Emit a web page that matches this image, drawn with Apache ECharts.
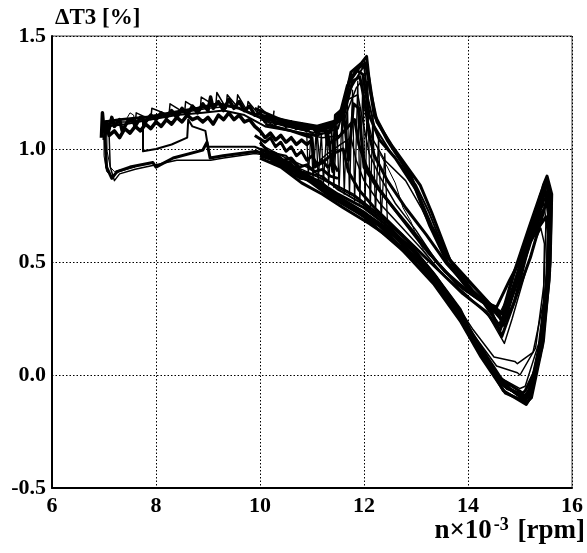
<!DOCTYPE html>
<html>
<head>
<meta charset="utf-8">
<script src="https://cdn.jsdelivr.net/npm/echarts@6/dist/echarts.min.js"></script>
<style>
html, body { margin: 0; padding: 0; background: #fff; }
#chart { width: 587px; height: 553px; }
</style>
</head>
<body>
<div id="chart"></div>
<script>
// axis ticks
var xTicks = [6, 8, 10, 12, 14, 16];
var yTicks = [-0.5, 0.0, 0.5, 1.0, 1.5];

// noisy upper band, n x 10^-3 vs dT3
var bandTop = [[6.95,1.05],[6.97,1.16],[7.0,1.08],[7.05,1.12],[7.1,1.09],[7.15,1.14],[7.2,1.10],[7.3,1.13],[7.35,1.08],[7.45,1.12],[7.55,1.13],[7.6,1.10],[7.7,1.14],[7.8,1.12],[7.9,1.15],[8.0,1.13],[8.1,1.16],[8.2,1.14],[8.3,1.17],[8.4,1.14],[8.5,1.18],[8.6,1.15],[8.7,1.19],[8.8,1.16],[8.9,1.20],[9.0,1.17],[9.05,1.23],[9.1,1.18],[9.2,1.21],[9.3,1.17],[9.4,1.22],[9.5,1.18],[9.6,1.21],[9.7,1.17],[9.8,1.19],[9.9,1.15],[10.0,1.16],[10.1,1.12],[10.2,1.14],[10.3,1.11],[10.4,1.13],[10.5,1.10],[10.6,1.12],[10.7,1.09],[10.8,1.11],[10.9,1.08],[11.0,1.10],[11.1,1.07],[11.2,1.09],[11.3,1.07],[11.4,1.10],[11.5,1.09]];
var bandLow = [[7.0,1.04],[7.05,1.10],[7.1,1.06],[7.2,1.08],[7.3,1.05],[7.4,1.09],[7.5,1.07],[7.6,1.10],[7.7,1.08],[7.8,1.11],[7.9,1.09],[8.0,1.12],[8.1,1.10],[8.2,1.13],[8.3,1.11],[8.4,1.14],[8.5,1.12],[8.6,1.15],[8.7,1.13],[8.8,1.14],[8.9,1.12],[9.0,1.14],[9.1,1.11],[9.2,1.15],[9.3,1.13],[9.4,1.16],[9.5,1.13],[9.6,1.15],[9.7,1.12],[9.8,1.13],[9.9,1.10],[10.0,1.08],[10.1,1.05],[10.2,1.07],[10.3,1.04],[10.4,1.06],[10.5,1.03],[10.6,1.05],[10.7,1.02],[10.8,1.04],[10.9,1.02],[11.0,1.04]];
var bandMid = [[9.9,1.06],[10.1,1.03],[10.2,1.05],[10.3,1.01],[10.4,1.03],[10.5,0.99],[10.6,1.01],[10.7,0.97],[10.8,0.99],[10.9,0.95],[11.0,0.97],[11.1,0.93],[11.2,0.95],[11.3,0.92],[11.4,0.94],[11.5,0.90]];
var bandMid2 = [[10.0,1.03],[10.15,0.99],[10.3,0.98],[10.45,0.95],[10.6,0.96],[10.75,0.92],[10.9,0.93],[11.05,0.90],[11.2,0.91],[11.35,0.88],[11.5,0.87]];
var bandSpikes = [[7.6,1.11],[7.62,1.16],[7.9,1.13],[7.92,1.18],[8.25,1.15],[8.27,1.20],[8.55,1.16],[8.57,1.21],[8.85,1.17],[8.87,1.23],[9.15,1.19],[9.17,1.25],[9.35,1.18],[9.37,1.24],[9.55,1.19],[9.57,1.24],[9.75,1.17],[9.77,1.21],[9.95,1.16],[9.97,1.19],[10.25,1.13],[10.27,1.17]];

// cycles
var cycle1 = [[7.0,1.12],[7.3,1.13],[7.8,1.14],[8.3,1.16],[8.8,1.18],[9.2,1.20],[9.6,1.18],[10.0,1.14],[10.5,1.11],[11.0,1.09],[11.4,1.11],[11.6,1.18],[11.75,1.34],[11.95,1.38],[12.05,1.41],[12.12,1.26],[12.25,1.12],[12.55,1.01],[13.08,0.84],[13.3,0.72],[13.65,0.51],[14.2,0.37],[14.6,0.27],[14.68,0.22],[14.95,0.42],[15.25,0.64],[15.45,0.84],[15.52,0.88],[15.61,0.80],[15.58,0.50],[15.44,0.17],[15.2,-0.10],[15.12,-0.13],[14.68,-0.07],[14.23,0.11],[13.85,0.29],[13.4,0.43],[12.88,0.57],[12.5,0.64],[11.92,0.73],[11.44,0.79],[11.15,0.86],[10.77,0.87],[10.58,0.94],[10.2,0.96],[9.94,0.99],[9.29,0.97],[9.04,0.96],[8.98,1.03],[8.9,0.995],[8.33,0.96],[8.0,0.92],[7.94,0.94],[7.5,0.92],[7.25,0.90],[7.15,0.87],[7.05,0.92],[7.02,1.05],[7.0,1.12]];
var cycle2 = [[7.05,1.10],[7.4,1.11],[7.9,1.13],[8.4,1.15],[8.9,1.16],[9.3,1.17],[9.7,1.15],[10.1,1.10],[10.6,1.08],[11.1,1.06],[11.5,1.09],[11.7,1.25],[11.9,1.33],[12.0,1.37],[12.08,1.22],[12.2,1.10],[12.5,0.99],[13.0,0.84],[13.25,0.72],[13.6,0.52],[14.15,0.38],[14.55,0.28],[14.64,0.24],[14.9,0.40],[15.2,0.60],[15.42,0.80],[15.5,0.85],[15.57,0.78],[15.55,0.48],[15.4,0.16],[15.18,-0.08],[15.08,-0.11],[14.65,-0.04],[14.2,0.13],[13.8,0.30],[13.35,0.45],[12.85,0.59],[12.45,0.67],[11.95,0.76],[11.5,0.82],[11.2,0.88],[10.8,0.90],[10.5,0.97],[10.1,0.99],[9.9,1.01],[9.3,1.01],[9.0,1.01],[8.95,1.08],[8.7,1.10],[8.62,1.13],[8.6,1.05],[8.3,1.02],[8.0,1.00],[7.75,0.99],[7.75,1.13]];
var cycle3 = [[7.1,1.12],[7.5,1.12],[8.0,1.14],[8.5,1.16],[9.0,1.18],[9.5,1.19],[9.9,1.15],[10.3,1.10],[10.8,1.07],[11.2,1.05],[11.55,1.06],[11.65,1.15],[11.85,1.27],[11.95,1.30],[12.02,1.18],[12.15,1.05],[12.4,0.95],[12.8,0.86],[13.1,0.74],[13.5,0.55],[14.05,0.40],[14.5,0.30],[14.6,0.27],[14.85,0.38],[15.15,0.58],[15.38,0.76],[15.48,0.81],[15.54,0.74],[15.52,0.45],[15.36,0.14],[15.1,-0.05],[15.0,-0.06],[14.6,-0.01],[14.15,0.15],[13.75,0.31],[13.3,0.46],[12.8,0.60],[12.4,0.69],[11.9,0.78],[11.4,0.84],[11.0,0.89],[10.6,0.93],[10.2,0.97],[9.9,0.98],[9.3,0.96],[9.05,0.95],[8.4,0.95],[8.0,0.93],[7.6,0.91],[7.3,0.89],[7.2,0.86],[7.12,0.92],[7.1,1.05],[7.12,1.12]];
var cycle4 = [[9.8,1.16],[10.2,1.12],[10.7,1.09],[11.1,1.07],[11.35,1.07],[11.45,1.12],[11.7,1.22],[11.88,1.24],[11.98,1.12],[12.1,0.98],[12.3,0.88],[12.6,0.76],[13.0,0.64],[13.4,0.50],[13.9,0.38],[14.4,0.30],[14.62,0.19],[14.88,0.36],[15.18,0.56],[15.4,0.73],[15.46,0.76],[15.5,0.68],[15.46,0.40],[15.3,0.12],[15.0,0.0],[14.95,0.01],[14.55,0.04],[14.1,0.18],[13.7,0.33],[13.25,0.47],[12.75,0.62],[12.3,0.71],[11.8,0.80],[11.3,0.86],[10.9,0.92],[10.5,0.96],[10.0,1.02]];
var cycle5 = [[9.9,1.18],[10.4,1.13],[10.9,1.10],[11.25,1.09],[11.3,1.02],[11.5,1.05],[11.7,1.10],[11.82,1.13],[11.9,1.02],[12.05,0.92],[12.3,0.82],[12.7,0.70],[13.1,0.58],[13.55,0.46],[14.0,0.37],[14.45,0.31],[14.55,0.30],[14.8,0.42],[15.1,0.55],[15.38,0.66],[15.5,0.70],[15.55,0.62],[15.5,0.35],[15.35,0.05],[15.1,-0.07],[15.05,-0.08],[14.65,-0.02],[14.2,0.14],[13.8,0.29],[13.35,0.44],[12.9,0.56],[12.45,0.66],[12.0,0.74],[11.5,0.80],[11.1,0.86],[10.7,0.91],[10.3,0.97],[10.0,1.0]];
var cycle6 = [[10.0,1.13],[10.5,1.10],[10.9,1.08],[11.1,1.06],[11.15,0.95],[11.3,0.98],[11.55,1.02],[11.75,1.05],[11.85,0.95],[12.0,0.86],[12.3,0.76],[12.7,0.66],[13.1,0.56],[13.5,0.45],[13.95,0.36],[14.4,0.26],[14.7,0.14],[14.85,0.25],[15.1,0.45],[15.3,0.60],[15.4,0.65],[15.47,0.58],[15.45,0.32],[15.25,0.10],[14.95,0.05],[14.9,0.06],[14.5,0.08],[14.1,0.20],[13.7,0.34],[13.2,0.49],[12.7,0.63],[12.2,0.72],[11.7,0.81],[11.2,0.87],[10.8,0.90],[10.4,0.95],[10.1,0.98]];
var cycle7 = [[10.1,1.11],[10.6,1.08],[11.0,1.05],[11.05,0.92],[11.2,0.94],[11.4,0.98],[11.6,1.00],[11.7,0.90],[11.9,0.82],[12.2,0.74],[12.6,0.65],[13.0,0.56],[13.45,0.46],[13.9,0.36],[14.35,0.28],[14.6,0.20],[14.85,0.30],[15.2,0.52],[15.45,0.72],[15.52,0.78],[15.58,0.70],[15.56,0.42],[15.42,0.12],[15.18,-0.06],[15.1,-0.10],[14.7,-0.05],[14.25,0.10],[13.85,0.27],[13.4,0.42],[12.95,0.55],[12.5,0.63],[12.0,0.72],[11.5,0.79],[11.1,0.85],[10.7,0.88],[10.3,0.95],[10.0,0.99]];
var cycle8 = [[10.2,1.14],[10.7,1.11],[11.2,1.08],[11.5,1.12],[11.68,1.28],[11.85,1.35],[11.98,1.33],[12.1,1.15],[12.3,1.04],[12.6,0.96],[13.0,0.82],[13.3,0.66],[13.7,0.49],[14.1,0.37],[14.55,0.27],[14.66,0.24],[14.95,0.45],[15.22,0.66],[15.4,0.80],[15.47,0.83],[15.56,0.76],[15.55,0.50],[15.42,0.18],[15.2,-0.06],[15.1,-0.09],[14.75,-0.06],[14.3,0.08],[13.9,0.25],[13.45,0.40],[13.0,0.52],[12.6,0.61],[12.2,0.68],[11.7,0.75],[11.3,0.81],[10.9,0.87],[10.5,0.93],[10.1,0.98]];
var cycle9 = [[10.3,1.12],[10.8,1.09],[11.3,1.10],[11.6,1.14],[11.78,1.30],[11.92,1.32],[12.02,1.20],[12.1,1.06],[12.2,0.97],[12.45,0.86],[12.8,0.74],[13.2,0.62],[13.6,0.49],[14.0,0.39],[14.4,0.31],[14.65,0.17],[14.9,0.33],[15.2,0.60],[15.42,0.78],[15.5,0.80],[15.55,0.70],[15.52,0.40],[15.38,0.08],[15.15,-0.09],[15.05,-0.10],[14.6,-0.03],[14.18,0.12],[13.78,0.28],[13.3,0.42],[12.85,0.53],[12.4,0.62],[12.0,0.70],[11.6,0.77],[11.2,0.83],[10.85,0.88],[10.4,0.94],[10.0,0.97]];
var cycle10 = [[10.4,1.12],[10.9,1.10],[11.3,1.08],[11.4,0.90],[11.45,1.15],[11.6,1.18],[11.7,0.95],[11.8,1.20],[11.9,1.18],[12.0,0.92],[12.25,0.83],[12.6,0.73],[13.0,0.62],[13.4,0.50],[13.8,0.40],[14.3,0.32],[14.6,0.22],[14.9,0.38],[15.22,0.62],[15.45,0.82],[15.52,0.86],[15.6,0.74],[15.57,0.46],[15.45,0.15],[15.22,-0.10],[15.13,-0.12],[14.72,-0.08],[14.25,0.08],[13.85,0.24],[13.35,0.40],[12.95,0.50],[12.55,0.60],[12.1,0.67],[11.6,0.74],[11.2,0.80],[10.8,0.85],[10.4,0.92],[10.0,0.96]];
var cycle11 = [[10.0,1.15],[10.6,1.12],[11.1,1.10],[11.55,1.13],[11.72,1.30],[11.9,1.36],[12.03,1.38],[12.1,1.30],[12.2,1.15],[12.45,1.04],[12.9,0.88],[13.27,0.66],[13.6,0.50],[14.04,0.37],[14.5,0.30],[14.66,0.27],[14.87,0.44],[15.19,0.66],[15.43,0.82],[15.5,0.86],[15.58,0.78],[15.56,0.50],[15.38,0.10],[15.2,-0.08],[15.1,-0.11],[14.8,-0.06],[14.35,0.06],[13.95,0.22],[13.5,0.38],[13.05,0.50],[12.65,0.58],[12.3,0.66],[11.8,0.73],[11.35,0.79],[11.0,0.85],[10.6,0.91],[10.2,0.95]];
var fan = [[10.9,1.06],[10.93,0.88],[10.98,1.07],[11.02,0.87],[11.08,1.08],[11.12,0.86],[11.18,1.07],[11.22,0.85],[11.28,1.08],[11.32,0.84],[11.38,1.10],[11.42,0.83],[11.48,1.12],[11.52,0.82],[11.58,1.16],[11.62,0.80],[11.68,1.22],[11.72,0.79],[11.78,1.26],[11.82,0.77],[11.88,1.30],[11.92,0.76],[11.98,1.33],[12.02,0.75],[12.07,1.30],[12.12,0.73],[12.17,1.15],[12.22,0.71],[12.28,1.05],[12.33,0.69],[12.4,0.98],[12.45,0.68]];
var spikeFill = [[14.92,0.42],[15.5,0.86],[15.0,0.47],[15.48,0.82],[15.08,0.52],[15.47,0.78],[15.15,0.57],[15.45,0.73],[15.2,0.60],[15.44,0.69]];
var innerLine = [[12.3,0.98],[12.45,0.92],[12.6,0.85],[12.75,0.74],[12.9,0.68],[13.0,0.62],[13.15,0.55],[13.3,0.52]];
var leftLoop1 = [[7.0,1.10],[7.0,0.97],[7.05,0.90],[7.15,0.88],[7.3,0.90],[7.6,0.92]];
var leftLoop2 = [[7.05,1.12],[7.06,0.99],[7.12,0.92],[7.2,0.90],[7.35,0.91]];
var leftHook = [[7.4,1.08],[7.45,1.14],[7.5,1.16],[7.57,1.15],[7.6,1.10]];

function makeSeries(data, width) {
    return {
        type: 'line',
        data: data,
        showSymbol: false,
        silent: true,
        lineStyle: { color: '#000', width: width, join: 'round' }
    };
}

function drawChart(chartId) {
    var labelFont = {
        color: '#000',
        fontFamily: 'Liberation Serif',
        fontWeight: 'bold',
        fontSize: 22
    };
    var myChart = echarts.init(document.getElementById(chartId));
    var option = {
        animation: false,
        backgroundColor: '#fff',
        grid: {
            left: 52, right: 15, top: 36, bottom: 65,
            show: true, borderColor: '#444', borderWidth: 1
        },
        xAxis: {
            type: 'value',
            min: xTicks[0], max: xTicks[xTicks.length - 1], interval: 2,
            axisLine: { onZero: false, lineStyle: { color: '#000', width: 2 } },
            axisTick: { show: false },
            axisLabel: Object.assign({ margin: 7 }, labelFont),
            splitLine: { lineStyle: { color: '#000', type: [1.5, 2], width: 1 } }
        },
        yAxis: {
            type: 'value',
            min: yTicks[0], max: yTicks[yTicks.length - 1], interval: 0.5,
            axisLine: { show: true, lineStyle: { color: '#000', width: 2 } },
            axisTick: { show: false },
            axisLabel: Object.assign({
                margin: 6,
                formatter: function (v) { return v.toFixed(1); }
            }, labelFont),
            splitLine: { lineStyle: { color: '#000', type: [1.5, 2], width: 1 } }
        },
        graphic: [
            {
                type: 'text', left: 55, top: 7,
                style: {
                    text: 'ΔT3 [%]', fill: '#000',
                    font: 'bold 23px "Liberation Serif"'
                }
            },
            {
                type: 'text', right: 2, top: 516,
                style: {
                    text: '{a|n×10}{s|-3}{a| [rpm]}',
                    rich: {
                        a: { fontFamily: 'Liberation Serif', fontWeight: 'bold', fontSize: 27, fill: '#000' },
                        s: { fontFamily: 'Liberation Serif', fontWeight: 'bold', fontSize: 18, fill: '#000', padding: [0, 2, 12, 2] }
                    }
                }
            }
        ],
        series: [
            makeSeries(bandTop, 3.5),
            makeSeries(bandLow, 3.5),
            makeSeries(bandMid, 3),
            makeSeries(bandMid2, 3),
            makeSeries(bandSpikes, 1.5),
            makeSeries(cycle1, 3),
            makeSeries(cycle2, 2),
            makeSeries(cycle3, 1.5),
            makeSeries(cycle4, 1.5),
            makeSeries(cycle5, 3),
            makeSeries(cycle6, 1.5),
            makeSeries(cycle7, 3),
            makeSeries(cycle8, 3),
            makeSeries(cycle9, 3),
            makeSeries(cycle10, 3),
            makeSeries(cycle11, 3.5),
            makeSeries(fan, 1.3),
            makeSeries(spikeFill, 2.5),
            makeSeries(innerLine, 1),
            makeSeries(leftLoop1, 1),
            makeSeries(leftLoop2, 1),
            makeSeries(leftHook, 1)
        ]
    };
    myChart.setOption(option);
}

drawChart('chart');
</script>
</body>
</html>
